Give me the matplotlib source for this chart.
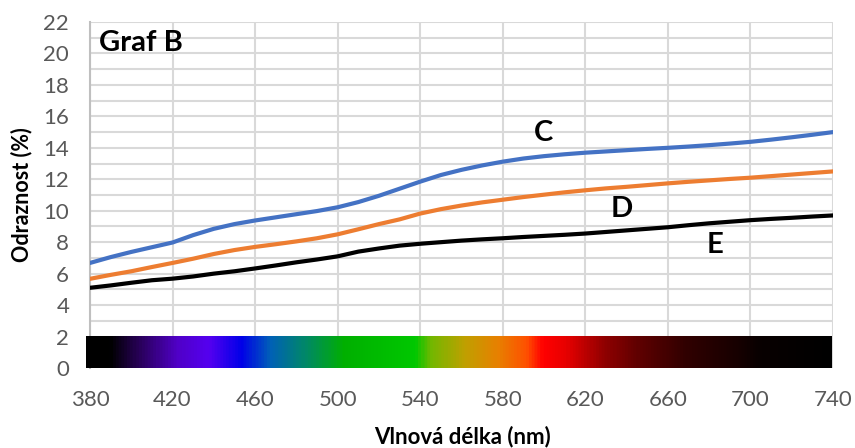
import numpy as np
import matplotlib
matplotlib.use("Agg")
import matplotlib.pyplot as plt
from matplotlib.colors import LinearSegmentedColormap

plt.rcParams['font.family'] = ['Lato', 'DejaVu Sans']

wavelength = list(range(380, 741, 10))
series_C = [6.68, 7.05, 7.38, 7.68, 7.98, 8.45, 8.85, 9.15, 9.38, 9.58, 9.78, 9.98,
            10.22, 10.55, 10.95, 11.4, 11.85, 12.27, 12.6, 12.88, 13.12, 13.32, 13.47,
            13.59, 13.69, 13.77, 13.85, 13.93, 14.0, 14.08, 14.17, 14.27, 14.38, 14.52,
            14.67, 14.83, 15.0]
series_D = [5.67, 5.92, 6.15, 6.42, 6.68, 6.95, 7.25, 7.5, 7.7, 7.87, 8.05, 8.25,
            8.5, 8.82, 9.15, 9.45, 9.82, 10.1, 10.33, 10.53, 10.7, 10.87, 11.02,
            11.17, 11.3, 11.42, 11.52, 11.63, 11.74, 11.84, 11.93, 12.02, 12.1, 12.2,
            12.3, 12.4, 12.5]
series_E = [5.1, 5.25, 5.42, 5.58, 5.68, 5.82, 6.0, 6.15, 6.33, 6.52, 6.72, 6.9,
            7.1, 7.4, 7.6, 7.78, 7.9, 8.0, 8.1, 8.18, 8.25, 8.33, 8.4, 8.47, 8.55,
            8.65, 8.75, 8.85, 8.95, 9.08, 9.2, 9.3, 9.4, 9.48, 9.55, 9.63, 9.7]
series_names = ['C', 'D', 'E']

# spectrum strip colour stops (wavelength nm, colour)
spec_nm = [378, 389, 403, 422, 437, 453, 467, 484, 503, 538, 545, 562, 578, 592,
           600, 611, 630, 646, 670, 694, 706, 740]
spec_col = ['#000000', '#000000', '#280058', '#5000c8', '#5500f0', '#0000e8',
            '#0060b8', '#008868', '#00b000', '#00c800', '#70b800', '#c0a000',
            '#e88000', '#ff5000', '#ff0000', '#e80000', '#900000', '#600000',
            '#300000', '#180000', '#080000', '#000000']

x_ticks = list(range(380, 741, 40))
y_ticks = list(range(0, 23, 2))

fig = plt.figure(figsize=(8.55, 4.48), dpi=100)
ax = fig.add_axes([90/855, 1-368/448, (833-90)/855, (368-22)/448])

ax.set_xlim(380, 740)
ax.set_ylim(0, 22)
ax.set_xticks(x_ticks)
ax.set_yticks(y_ticks)
ax.set_yticks(range(0, 23, 1), minor=True)
ax.grid(True, which='both', color='#d9d9d9', linewidth=1.5)
ax.set_axisbelow(True)
for s in ['top', 'right', 'bottom']:
    ax.spines[s].set_visible(False)
ax.spines['left'].set_color('#bfbfbf')
ax.spines['left'].set_linewidth(1.5)
ax.tick_params(which='both', length=0, labelsize=16, labelcolor='#595959')
ax.tick_params(axis='x', pad=16)
ax.tick_params(axis='y', pad=15)

# spectrum strip
lo, hi = spec_nm[0], spec_nm[-1]
pos = [(v - lo) / (hi - lo) for v in spec_nm]
cmap = LinearSegmentedColormap.from_list('spec', list(zip(pos, spec_col)))
grad = np.linspace(0, 1, 800).reshape(1, -1)
im = ax.imshow(grad, cmap=cmap, aspect='auto', extent=[lo, 739, 0, 2.03],
               zorder=3, interpolation='bilinear')
im.set_clip_on(False)

colors = ['#4472C4', '#ED7D31', '#000000']
for ys, c in zip([series_C, series_D, series_E], colors):
    ax.plot(wavelength, ys, color=c, linewidth=3, solid_capstyle='round', zorder=4)

ax.text(599.5, 14.94, series_names[0], fontsize=21, fontweight='bold', ha='center', va='center')
ax.text(637.8, 10.1, series_names[1], fontsize=21, fontweight='bold', ha='center', va='center')
ax.text(682.8, 7.8, series_names[2], fontsize=21, fontweight='bold', ha='center', va='center')
ax.text(384.5, 20.65, 'Graf B', fontsize=21, fontweight='bold', ha='left', va='center')

fig.text(22/855, 1-195/448, 'Odraznost (%)', rotation=90, fontsize=15.5, fontweight='bold',
         ha='center', va='center')
fig.text(462/855, 1-437/448, 'Vlnová délka (nm)', fontsize=16, fontweight='bold',
         ha='center', va='center')

fig.savefig('out.png', dpi=100)
